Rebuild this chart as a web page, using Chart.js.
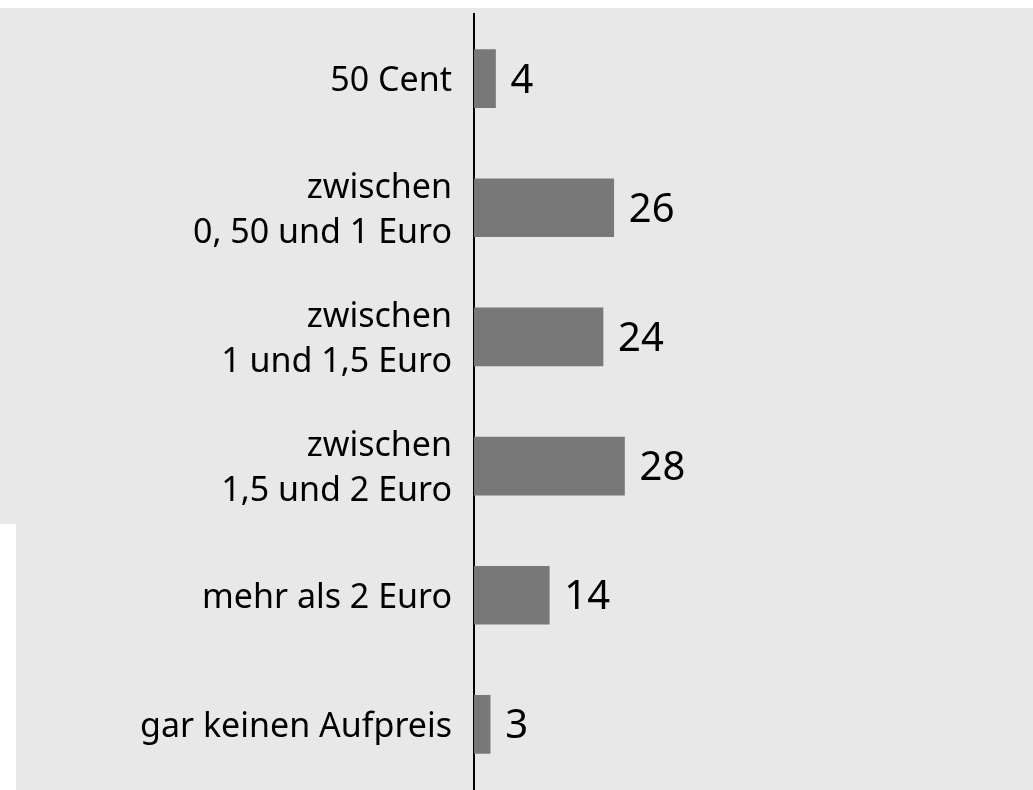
<!DOCTYPE html>
<html>
<head>
<meta charset="utf-8">
<script src="https://cdn.jsdelivr.net/npm/chart.js@4"></script>
<style>
    html, body { margin: 0; padding: 0; background: #fff; overflow: hidden; }
    #chart { display: block; }
</style>
</head>
<body>
<canvas id="chart" width="1033" height="790"></canvas>
<script>
const categories = [
    '50 Cent',
    ['zwischen', '0, 50 und 1 Euro'],
    ['zwischen', '1 und 1,5 Euro'],
    ['zwischen', '1,5 und 2 Euro'],
    'mehr als 2 Euro',
    'gar keinen Aufpreis'
];
const values = [4, 26, 24, 28, 14, 3];

const FONT = '"Noto Sans", "Open Sans", sans-serif';

// grey panel behind the chart, with the notch at lower left
const panelBackground = {
    id: 'panelBackground',
    beforeDraw(chart) {
        const ctx = chart.ctx;
        ctx.save();
        ctx.fillStyle = '#e8e8e8';
        ctx.fillRect(0, 8, chart.width, chart.height - 8);
        ctx.fillStyle = '#ffffff';
        ctx.fillRect(0, 524, 16, chart.height - 524);
        ctx.restore();
    }
};

const valueLabels = {
    id: 'valueLabels',
    afterDatasetsDraw(chart) {
        const ctx = chart.ctx;
        const meta = chart.getDatasetMeta(0);
        ctx.save();
        ctx.fillStyle = '#000';
        ctx.font = '40px ' + FONT;
        ctx.textAlign = 'left';
        ctx.textBaseline = 'alphabetic';
        meta.data.forEach((bar, i) => {
            ctx.fillText(String(values[i]), bar.x + 15, bar.y + 14);
        });
        ctx.restore();
    }
};

new Chart(document.getElementById('chart'), {
    type: 'bar',
    data: {
        labels: categories,
        datasets: [{
            data: values,
            backgroundColor: '#787878',
            borderWidth: 0,
            barThickness: 58
        }]
    },
    options: {
        indexAxis: 'y',
        responsive: false,
        animation: false,
        layout: { padding: { top: 14, bottom: 1, left: 0, right: 0 } },
        plugins: {
            legend: { display: false },
            tooltip: { enabled: false }
        },
        scales: {
            x: {
                display: false,
                min: 0,
                max: 104
            },
            y: {
                z: 1,
                grid: { display: false, drawTicks: false },
                border: { display: true, color: '#000', width: 2 },
                ticks: {
                    color: '#000',
                    padding: 22,
                    labelOffset: 3,
                    font: { family: FONT, size: 34, lineHeight: 1.32 }
                },
                afterFit(scale) {
                    scale.width = 474;
                    scale.paddingTop = 0;
                    scale.paddingBottom = 0;
                }
            }
        }
    },
    plugins: [panelBackground, valueLabels]
});
</script>
</body>
</html>
